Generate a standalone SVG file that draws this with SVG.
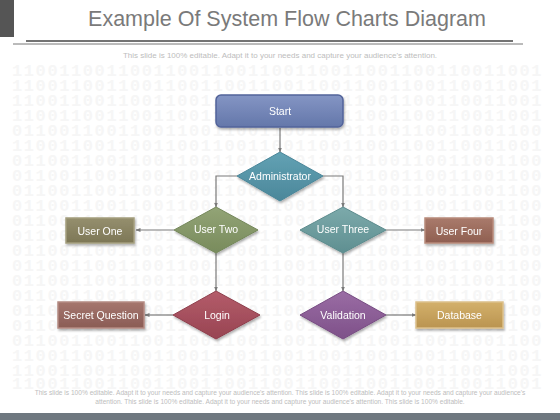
<svg xmlns="http://www.w3.org/2000/svg" width="560" height="420" viewBox="0 0 560 420">
<defs>
<style>
.bin{font-family:"Liberation Mono",monospace;font-size:17px;font-weight:bold;fill:#f6f6f6;letter-spacing:1.6px}
.lbl{font-family:"Liberation Sans",Arial,sans-serif;font-size:10.5px;fill:#ffffff;text-anchor:middle;dominant-baseline:central}
.note{font-family:"Liberation Sans",Arial,sans-serif;fill:#bdbdbd;text-anchor:middle}
.edge{fill:none;stroke:#7a7a7a;stroke-width:1.2;marker-end:url(#arr)}
.box{stroke-width:1.5}
</style>
<marker id="arr" viewBox="0 0 10 10" refX="9" refY="5" markerWidth="5" markerHeight="5" orient="auto" markerUnits="userSpaceOnUse">
<path d="M0,1 L10,5 L0,9 z" fill="#7a7a7a"/>
</marker>
<filter id="sh" x="-20%" y="-20%" width="150%" height="160%">
<feDropShadow dx="1" dy="2" stdDeviation="1.2" flood-color="#000" flood-opacity="0.3"/>
</filter>
<linearGradient id="gStart" x1="0" y1="0" x2="0" y2="1"><stop offset="0" stop-color="#8495c4"/><stop offset="1" stop-color="#6477aa"/></linearGradient>
<linearGradient id="gAdm" x1="0" y1="0" x2="0" y2="1"><stop offset="0" stop-color="#62a2b4"/><stop offset="1" stop-color="#4b879a"/></linearGradient>
<linearGradient id="gU2" x1="0" y1="0" x2="0" y2="1"><stop offset="0" stop-color="#93a476"/><stop offset="1" stop-color="#788b5c"/></linearGradient>
<linearGradient id="gU1" x1="0" y1="0" x2="0" y2="1"><stop offset="0" stop-color="#958f6e"/><stop offset="1" stop-color="#7d7756"/></linearGradient>
<linearGradient id="gU3" x1="0" y1="0" x2="0" y2="1"><stop offset="0" stop-color="#7caaab"/><stop offset="1" stop-color="#5f8f91"/></linearGradient>
<linearGradient id="gU4" x1="0" y1="0" x2="0" y2="1"><stop offset="0" stop-color="#a97a6b"/><stop offset="1" stop-color="#8f5f51"/></linearGradient>
<linearGradient id="gLog" x1="0" y1="0" x2="0" y2="1"><stop offset="0" stop-color="#b45c6a"/><stop offset="1" stop-color="#984452"/></linearGradient>
<linearGradient id="gSec" x1="0" y1="0" x2="0" y2="1"><stop offset="0" stop-color="#a5766e"/><stop offset="1" stop-color="#8a5c55"/></linearGradient>
<linearGradient id="gVal" x1="0" y1="0" x2="0" y2="1"><stop offset="0" stop-color="#9a6ca4"/><stop offset="1" stop-color="#7e5189"/></linearGradient>
<linearGradient id="gDb" x1="0" y1="0" x2="0" y2="1"><stop offset="0" stop-color="#d3b06b"/><stop offset="1" stop-color="#ba9450"/></linearGradient>
</defs>
<rect x="0" y="0" width="560" height="420" fill="#ffffff"/>
<g id="background-binary">
<text class="bin" x="12" y="76">110011001100110011001100110011001100110011001</text>
<text class="bin" x="12" y="91">110011001100110011001100110011001100110011001</text>
<text class="bin" x="12" y="106">110011001100110011001100110011001100110011001</text>
<text class="bin" x="12" y="121">110011001100110011001100110011001100110011001</text>
<text class="bin" x="12" y="136">011001100110011001100110011001100110011001100</text>
<text class="bin" x="12" y="151">110011001100110011001100110011001100110011001</text>
<text class="bin" x="12" y="166">011001100110011001100110011001100110011001100</text>
<text class="bin" x="12" y="181">011001100110011001100110011001100110011001100</text>
<text class="bin" x="12" y="196">011001100110011001100110011001100110011001100</text>
<text class="bin" x="12" y="211">011001100110011001100110011001100110011001100</text>
<text class="bin" x="12" y="226">011001100110011001100110011001100110011001100</text>
<text class="bin" x="12" y="241">011001100110011001100110011001100110011001100</text>
<text class="bin" x="12" y="256">011001100110011001100110011001100110011001100</text>
<text class="bin" x="12" y="271">011001100110011001100110011001100110011001100</text>
<text class="bin" x="12" y="286">011001100110011001100110011001100110011001100</text>
<text class="bin" x="12" y="301">011001100110011001100110011001100110011001100</text>
<text class="bin" x="12" y="316">011001100110011001100110011001100110011001100</text>
<text class="bin" x="12" y="331">011001100110011001100110011001100110011001100</text>
<text class="bin" x="12" y="346">011001100110011001100110011001100110011001100</text>
<text class="bin" x="12" y="361">110011001100110011001100110011001100110011001</text>
<text class="bin" x="12" y="376">110011001100110011001100110011001100110011001</text>
<text class="bin" x="12" y="389">110011001100110011001100110011001100110011001</text>
</g>
<g id="header">
<rect x="0" y="0" width="14" height="37" fill="#555555"/>
<text x="287" y="26" font-family="Liberation Sans, Arial, sans-serif" font-size="21.5" fill="#7a7a7a" text-anchor="middle">Example Of System Flow Charts Diagram</text>
<line x1="26" y1="41" x2="513" y2="41" stroke="#444444" stroke-width="1.5"/>
<line x1="13" y1="44" x2="523" y2="44" stroke="#777777" stroke-width="1"/>
<text class="note" x="280" y="58" font-size="8">This slide is 100% editable. Adapt it to your needs and capture your audience's attention.</text>
</g>
<g id="connectors">
<path class="edge" d="M280,128 L280,152"/>
<path class="edge" d="M237,176 L216,176 L216,207"/>
<path class="edge" d="M323,176 L343,176 L343,207"/>
<path class="edge" d="M174,230 L136,230"/>
<path class="edge" d="M216,253 L216,291"/>
<path class="edge" d="M386,230 L425,230"/>
<path class="edge" d="M343,253 L343,291"/>
<path class="edge" d="M173,315 L145,315"/>
<path class="edge" d="M386,315 L416,315"/>
</g>
<g id="start" filter="url(#sh)">
<rect x="216" y="95" width="127" height="32" rx="5" fill="url(#gStart)" stroke="#52639a" stroke-width="1.5"/>
<text class="lbl" x="280" y="111">Start</text>
</g>
<g id="administrator" filter="url(#sh)">
<polygon points="280,152 323,176 280,201 237,176" fill="url(#gAdm)" stroke="#4a8699" stroke-width="1"/>
<text class="lbl" x="280" y="176">Administrator</text>
</g>
<g id="user-two" filter="url(#sh)">
<polygon points="216,207 258,230 216,253 174,230" fill="url(#gU2)" stroke="#74875a" stroke-width="1"/>
<text class="lbl" x="216" y="229">User Two</text>
</g>
<g id="user-one" filter="url(#sh)">
<rect class="box" x="66" y="218" width="68" height="25" fill="url(#gU1)" stroke="#a49e7e"/>
<text class="lbl" x="100" y="230.5">User One</text>
</g>
<g id="user-three" filter="url(#sh)">
<polygon points="343,207 386,230 343,253 300,230" fill="url(#gU3)" stroke="#5c8b8d" stroke-width="1"/>
<text class="lbl" x="343" y="229">User Three</text>
</g>
<g id="user-four" filter="url(#sh)">
<rect class="box" x="425" y="218" width="68" height="25" fill="url(#gU4)" stroke="#b88a7b"/>
<text class="lbl" x="459" y="230.5">User Four</text>
</g>
<g id="login" filter="url(#sh)">
<polygon points="216,291 260,315 216,339 173,315" fill="url(#gLog)" stroke="#8e3f4c" stroke-width="1"/>
<text class="lbl" x="217" y="315">Login</text>
</g>
<g id="secret-question" filter="url(#sh)">
<rect class="box" x="58" y="302" width="86" height="26" fill="url(#gSec)" stroke="#b48a82"/>
<text class="lbl" x="101" y="315">Secret Question</text>
</g>
<g id="validation" filter="url(#sh)">
<polygon points="343,291 386,315 343,339 300,315" fill="url(#gVal)" stroke="#774c82" stroke-width="1"/>
<text class="lbl" x="343" y="315">Validation</text>
</g>
<g id="database" filter="url(#sh)">
<rect class="box" x="416" y="302" width="87" height="26" fill="url(#gDb)" stroke="#dcc08a"/>
<text class="lbl" x="459.5" y="315">Database</text>
</g>
<g id="footer">
<text class="note" x="280" y="395" font-size="6.6">This slide is 100% editable. Adapt it to your needs and capture your audience's attention. This slide is 100% editable. Adapt it to your needs and capture your audience's</text>
<text class="note" x="280" y="404" font-size="6.6">attention. This slide is 100% editable. Adapt it to your needs and capture your audience's attention. This slide is 100% editable.</text>
<rect x="0" y="413" width="560" height="7" fill="#6f7880"/>
</g>
</svg>
